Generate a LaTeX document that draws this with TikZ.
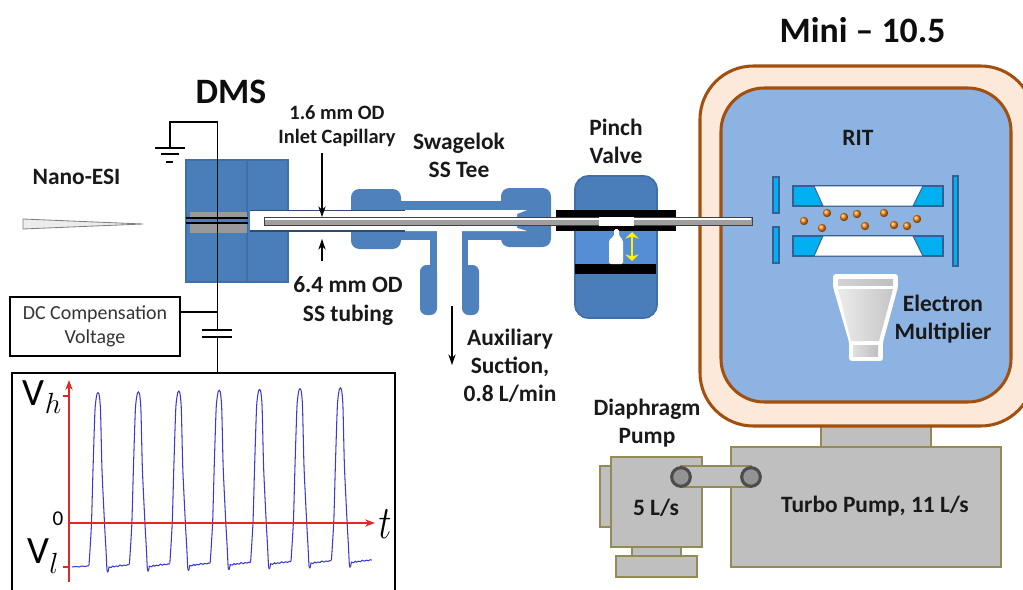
\documentclass[tikz,border=0pt]{standalone}
\usepackage{fontspec}
\usetikzlibrary{arrows.meta}
\setmainfont{Carlito}
\tikzset{
    bigtitle/.style={font=\fontsize{30.5}{32}\selectfont\bfseries, text=black!95},
    partlabel/.style={font=\fontsize{20}{24}\selectfont\bfseries, align=center, text=black!90},
    smalllabel/.style={font=\fontsize{17.4}{20.5}\selectfont\bfseries, align=center, text=black!90},
    wire/.style={black, line width=1.3pt},
    pointer/.style={black, line width=0.9pt, -{Stealth[length=3.2mm, width=2.2mm]}},
    blockblue/.style={fill=dmsblue, draw=dmsedge, line width=1pt},
    teeblue/.style={fill=teefill},
    pumpbox/.style={fill=pumpgray, draw=pumpedge, line width=2.4pt},
    electrode/.style={fill=ritcyan, draw=ritedge, line width=1pt},
    pulsetrace/.style={pulseblue, line width=0.9pt},
    axisred/.style={axiscolor, line width=1.4pt, -{Stealth[length=3mm, width=2.2mm]}},
}
\definecolor{dmsblue}{HTML}{4A7EBB}
\definecolor{dmsedge}{HTML}{3F6FA8}
\definecolor{teefill}{HTML}{4F81BD}
\definecolor{valvemid}{HTML}{558ED5}
\definecolor{pumpgray}{HTML}{BFBFBF}
\definecolor{pumpedge}{HTML}{948A54}
\definecolor{ritcyan}{HTML}{00B0F0}
\definecolor{ritedge}{HTML}{376092}
\definecolor{chamberblue}{HTML}{8DB3E2}
\definecolor{chamberskin}{HTML}{FDE9D9}
\definecolor{chamberedge}{HTML}{A2500F}
\definecolor{pulseblue}{HTML}{3A3AD0}
\definecolor{axiscolor}{HTML}{E02828}
\begin{document}
\begin{tikzpicture}[x=0.03cm, y=-0.03cm]
    \clip (0, 0) rectangle (1023, 590);

    % vacuum chamber and pumps
    \fill[pumpgray, draw=pumpedge, line width=2.4pt] (821, 420) rectangle (931, 447);
    \draw[fill=chamberskin, draw=chamberedge, line width=2.6pt, rounded corners=16mm] (700, 66) rectangle (1034, 426);
    \draw[fill=chamberblue, draw=chamberedge, line width=2.6pt, rounded corners=13mm] (721, 88) rectangle (1011, 402);
    \draw[pumpbox] (731, 447) rectangle (1001, 567);
    \draw[pumpbox] (600, 466) rectangle (611, 527);
    \draw[pumpbox] (632, 547) rectangle (681, 556);
    \draw[pumpbox] (616, 556) rectangle (697, 577);
    \draw[pumpbox] (611, 457) rectangle (702, 547);
    \draw[pumpbox] (681, 466) rectangle (751, 487);
    \node[circle, minimum size=0.56cm, fill=gray!85, draw=black!70, line width=2.6pt] (pumpjointa) at (681, 477) {};
    \node[circle, minimum size=0.56cm, fill=gray!85, draw=black!70, line width=2.6pt] (pumpjointb) at (751, 477) {};

    % tee
    \fill[teeblue, rounded corners=2.5mm] (351, 189) rectangle (401, 249);
    \fill[teeblue, rounded corners=2.5mm] (501, 188) rectangle (551, 247);
    \fill[teeblue] (395, 201) rectangle (510, 211);
    \fill[teeblue] (395, 231) rectangle (437, 240);
    \fill[teeblue] (462, 231) rectangle (510, 240);
    \fill[teeblue] (430, 231) rectangle (437, 270);
    \fill[teeblue] (462, 231) rectangle (468, 270);
    \fill[teeblue, rounded corners=2mm] (420, 265) -- (437, 265) -- (437, 315) -- (420, 315) -- cycle;
    \fill[teeblue, rounded corners=2mm] (462, 265) -- (479, 265) -- (479, 315) -- (462, 315) -- cycle;
    \fill[white] (340, 210) -- (527, 210) -- (517, 214) -- (517, 228) -- (527, 231) -- (340, 231) -- cycle;

    % DMS
    \fill[blockblue] (186, 160) rectangle (288, 282);
    \draw[dmsedge, line width=1.4pt] (247, 160) -- (247, 282);
    \fill[gray!80] (190, 212) rectangle (247, 218);
    \fill[gray!80] (190, 224) rectangle (247, 233);
    \draw[black, line width=1.4pt] (186, 218) -- (248, 218);
    \draw[black, line width=1.4pt] (186, 223) -- (248, 223);
    \fill[white] (250, 211) rectangle (340, 231);
    \draw[dmsedge!70!black, line width=0.9pt] (250, 210.5) -- (405, 210.5);
    \draw[dmsedge!70!black, line width=0.9pt] (250, 231) -- (405, 231);

    % valve
    \draw[fill=dmsblue, draw=dmsedge, line width=1.4pt, rounded corners=4mm] (575, 176) rectangle (657, 318);
    \fill[valvemid] (576, 231) rectangle (656, 264);
    \fill[black] (556, 210) rectangle (676, 217);
    \fill[black] (556, 225) rectangle (676, 231);
    \fill[black] (575, 264) rectangle (656, 274);
    \fill[white, rounded corners=0.5mm] (614, 229) -- (619, 229) -- (619, 236) -- (623, 240) -- (623, 264) -- (609, 264) -- (609, 240) -- (614, 236) -- cycle;
    \coordinate (pinchup) at (632, 232);
    \coordinate (pinchdown) at (632, 261);
    \draw[yellow, line width=2.4pt, {Stealth[length=2mm, width=4mm]}-{Stealth[length=2mm, width=4mm]}] (pinchup) -- (pinchdown);

    % capillary
    \draw[fill=gray!75, draw=black!75, line width=0.8pt] (264, 217) rectangle (752, 225);
    \fill[white] (265, 218.2) rectangle (751, 220.4);
    \fill[white] (599, 217) rectangle (634, 226);

    % trap
    \draw[electrode] (773, 177) rectangle (779, 213);
    \draw[electrode] (773, 227) rectangle (779, 263);
    \draw[electrode] (953, 176) rectangle (958, 266);
    \draw[electrode] (793, 186) rectangle (943, 206);
    \draw[electrode] (793, 236) rectangle (943, 256);
    \draw[fill=white, draw=ritedge, line width=0.8pt] (814, 186) -- (923, 186) -- (913, 206) -- (823, 206) -- cycle;
    \draw[fill=white, draw=ritedge, line width=0.8pt] (823, 236) -- (913, 236) -- (923, 256) -- (814, 256) -- cycle;
    \foreach \ionx/\iony in {804/221, 827/213, 844/217, 857/214, 884/213, 865/226, 822/228, 894/225, 907/226, 917/219} {
        \shade[ball color=orange!85!brown] (\ionx, \iony) circle (0.125cm);
    }

    % detector
    \draw[fill=white, draw=white, line width=1.6pt, rounded corners=0.6mm] (834, 275) -- (897, 275) -- (897, 287) -- (882, 342) -- (882, 360) -- (850, 360) -- (850, 342) -- (834, 287) -- cycle;
    \shade[left color=gray!35, right color=gray!50] (838, 279) rectangle (893, 285);
    \shade[left color=gray!15, right color=gray!45] (838, 289) -- (893, 289) -- (879, 341) -- (851, 341) -- cycle;
    \shade[left color=gray!25, right color=gray!50] (853, 345) rectangle (878, 356);

    % wiring
    \coordinate (wiretop) at (217.5, 122);
    \coordinate (wirejoin) at (217.5, 312);
    \coordinate (capup) at (217.5, 330);
    \coordinate (capdown) at (217.5, 337);
    \coordinate (plottop) at (217.5, 373);
    \coordinate (gndbar) at (170, 148);
    \node[draw=black, line width=1.6pt, minimum width=5.1cm, minimum height=1.77cm, align=center,
          font=\fontsize{17}{20.5}\selectfont, text=black!80] (dcbox) at (95, 326.5) {DC Compensation\\Voltage};
    \draw[wire] (gndbar) |- (wiretop) -- (capup);
    \draw[wire] (capdown) -- (plottop);
    \draw[wire] (dcbox.east |- wirejoin) -- (wirejoin);
    \draw[wire] (155, 148) -- (185, 148);
    \draw[wire] (161, 154) -- (179, 154);
    \draw[wire] (166, 162) -- (173, 162);
    \draw[wire] (202, 330) -- (232, 330);
    \draw[wire] (202, 337) -- (232, 337);

    % tip
    \draw[fill=gray!15, draw=gray, line width=0.7pt] (23, 219) -- (143, 224) -- (23, 229) -- cycle;

    % pointers
    \coordinate (inleta) at (322, 153);
    \coordinate (inletb) at (322, 217);
    \coordinate (tubinga) at (322, 261);
    \coordinate (tubingb) at (322, 239);
    \coordinate (suctiona) at (452, 306);
    \coordinate (suctionb) at (452, 365);
    \draw[pointer] (inleta) -- (inletb);
    \draw[pointer] (tubinga) -- (tubingb);
    \draw[pointer] (suctiona) -- (suctionb);

    % waveform box
    \draw[black, line width=1.6pt] (12, 592) -- (12, 373) -- (395, 373) -- (395, 592);
    \draw[pulsetrace] plot[smooth, tension=0.4] coordinates {(72, 567) (76, 566.5) (79, 567) (82, 566) (85, 566.5) (89, 565.5)};
    \foreach \peak [count=\pulsenum from 0] in {98, 138.4, 178.8, 219.2, 259.6, 300, 340.4} {
        \draw[pulsetrace, shift={(\peak, -0.8*\pulsenum)}] plot[smooth, tension=0.4] coordinates {(-9, 565) (-8, 550) (-6.5, 523) (-5, 470) (-3, 410) (-1, 394) (1, 394) (2.5, 410) (4, 470) (6.5, 523) (8, 550) (9, 570) (10, 572)};
        \draw[pulsetrace, shift={(\peak, -0.8*\pulsenum)}] (10, 572) -- (11, 567) -- (13, 567.5) -- (15, 566) -- (16, 567) -- (18, 566) -- (20, 566.5) -- (22, 565) -- (24, 566) -- (26, 565) -- (28, 565.5) -- (30, 564.5) -- (31.4, 565);
    }
    \coordinate (axisbottom) at (69, 582);
    \coordinate (axistop) at (69, 380);
    \coordinate (axisleft) at (69, 523);
    \coordinate (axisright) at (375, 523);
    \draw[axisred] (axisbottom) -- (axistop);
    \draw[axisred] (axisleft) -- (axisright);
    \draw[axiscolor, line width=1.2pt] (63, 396) -- (69, 396);
    \draw[axiscolor, line width=1.2pt] (63, 567) -- (69, 567);
    \node[font=\fontsize{33}{33}\selectfont, inner sep=0pt] (vhigh) at (42, 397) {V\raisebox{-7pt}{\fontsize{24}{24}\selectfont$h$}};
    \node[font=\fontsize{33}{33}\selectfont, inner sep=0pt] (vlow) at (43, 556) {V\raisebox{-8pt}{\fontsize{24}{24}\selectfont$l$}};
    \node[font=\fontsize{18}{18}\selectfont, inner sep=0pt] (zero) at (58, 519) {0};
    \node[font=\fontsize{24}{24}\selectfont, inner sep=0pt] (timelabel) at (385, 524) {\scalebox{1.25}[1.6]{$t$}};

    % labels
    \node[bigtitle] (minititle) at (862.5, 30) {Mini -- 10.5};
    \node[bigtitle] (dmstitle) at (231, 92) {DMS};
    \node[partlabel] (nanolabel) at (76.5, 177) {Nano-ESI};
    \node[smalllabel] (inletlabel) at (337, 126) {1.6 mm OD\\Inlet Capillary};
    \node[partlabel] (teelabel) at (459, 155) {Swagelok\\SS Tee};
    \node[partlabel] (valvelabel) at (616, 141) {Pinch\\Valve};
    \node[partlabel] (ritlabel) at (858, 138) {RIT};
    \node[partlabel] (emlabel) at (943, 319) {Electron\\Multiplier};
    \node[partlabel] (tubinglabel) at (348, 301) {6.4 mm OD\\SS tubing};
    \node[partlabel] (suctionlabel) at (510, 366) {Auxiliary\\Suction,\\0.8 L/min};
    \node[partlabel] (diaphragmlabel) at (647, 423) {Diaphragm\\Pump};
    \node[partlabel] (diaphragmrate) at (656, 508) {5 L/s};
    \node[partlabel] (turborate) at (875, 506) {Turbo Pump, 11 L/s};
\end{tikzpicture}
\end{document}
